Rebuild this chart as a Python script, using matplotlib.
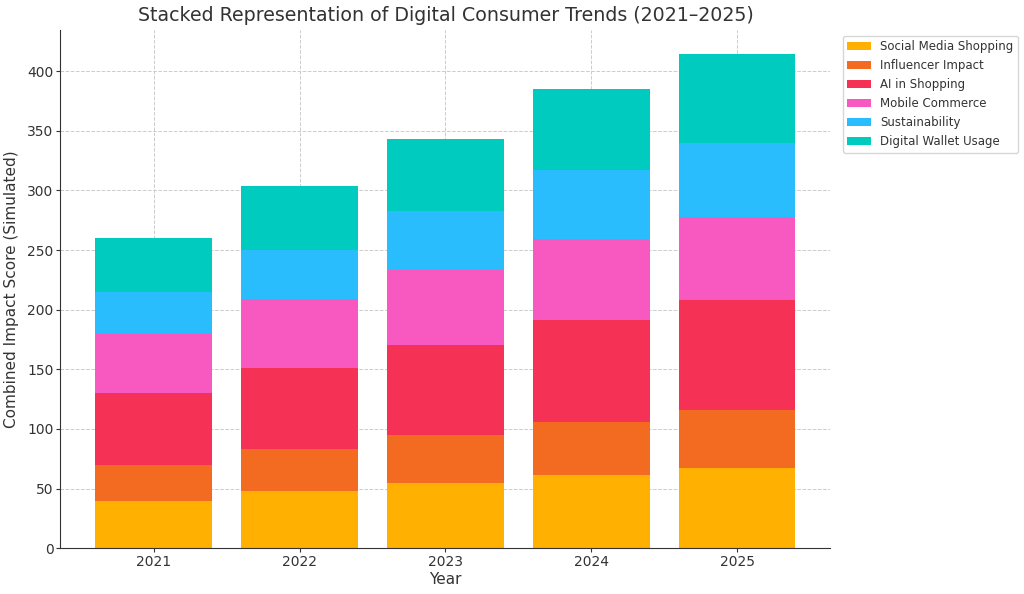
import matplotlib

matplotlib.use("Agg")
import matplotlib.pyplot as plt
import numpy as np

years = ["2021", "2022", "2023", "2024", "2025"]
categories = [
    "Social Media Shopping",
    "Influencer Impact",
    "AI in Shopping",
    "Mobile Commerce",
    "Sustainability",
    "Digital Wallet Usage",
]
social_media = [40, 48, 55, 61, 67]
influencer = [30, 35, 40, 45, 49]
ai_shopping = [60, 68, 75, 85, 92]
mobile = [50, 58, 63, 68, 70]
sustainability = [35, 41, 50, 58, 62]
wallet = [45, 54, 60, 68, 74]
colors = ["#FFB000", "#F26B21", "#F53256", "#F859C1", "#29BDFD", "#00CBBF"]

series = [social_media, influencer, ai_shopping, mobile, sustainability, wallet]

fig, ax = plt.subplots(figsize=(10.24, 5.94), dpi=100)
x = np.arange(len(years))
bottom = np.zeros(len(years))
for name, vals, c in zip(categories, series, colors):
    ax.bar(x, vals, 0.8, bottom=bottom, label=name, color=c)
    bottom += np.array(vals)

ax.set_xticks(x, years)
ax.set_title("Stacked Representation of Digital Consumer Trends (2021–2025)",
             fontsize=13.7, color="#333333")
ax.set_xlabel("Year", fontsize=11, color="#333333", labelpad=2)
ax.set_ylabel("Combined Impact Score (Simulated)", fontsize=11, color="#333333",
              labelpad=6)
ax.grid(True, linestyle="--", color="#cccccc", linewidth=0.7)
ax.set_axisbelow(True)
for s in ["top", "right"]:
    ax.spines[s].set_visible(False)
for s in ["left", "bottom"]:
    ax.spines[s].set_color("#333333")
ax.tick_params(colors="#333333", labelsize=10, length=3, pad=2)
ax.legend(loc="upper left", bbox_to_anchor=(1.008, 1.0), fontsize=8.5,
          labelcolor="#333333")

fig.subplots_adjust(left=0.059, right=0.811, top=0.95, bottom=0.077)
fig.savefig("out.png", dpi=100)
